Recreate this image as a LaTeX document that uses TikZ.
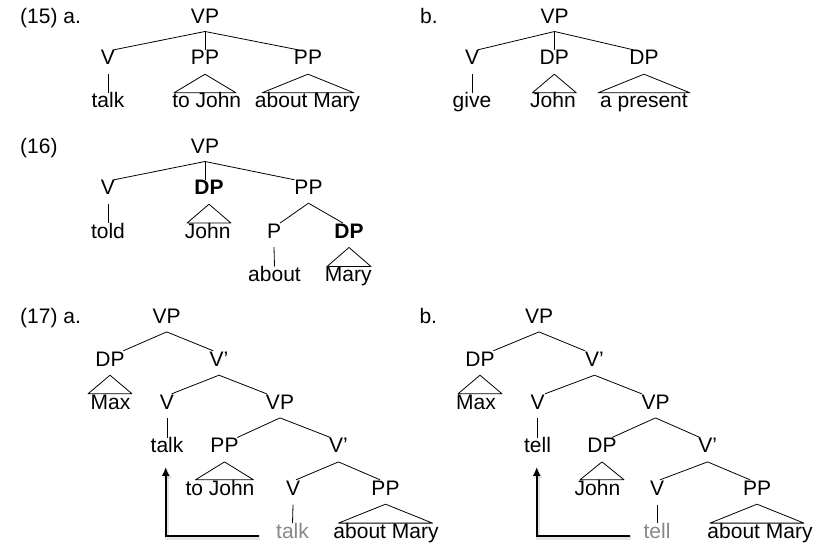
\documentclass[tikz,border=0pt]{standalone}
\usepackage{fontspec}
\setmainfont{Liberation Sans}
\usetikzlibrary{calc,arrows.meta}
\definecolor{gtext}{RGB}{135,135,135}
\newcommand\labfont{\fontsize{21}{25}\selectfont}
\newcommand\mytri[3]{\draw[edge] ([yshift=-9pt]#1.south) -- ($(#1.south |- #2.north)+(-#3pt,0)$) -- ($(#1.south |- #2.north)+(#3pt,0)$) -- cycle;}
\tikzset{
  lab/.style={font=\labfont, inner sep=0pt, text height=15pt, text depth=0pt, anchor=base},
  numlab/.style={lab, anchor=base west},
  boldlab/.style={lab, font=\labfont\bfseries},
  edge/.style={line width=0.8pt, line join=round},
  movearrow/.style={line width=2pt, -{Latex[length=9pt,width=8pt]}},
  moveshadow/.style={line width=4.5pt, draw=black, opacity=0.10, -{Latex[length=10pt,width=10pt]}}
}
\begin{document}
\begin{tikzpicture}[x=1pt,y=-1pt]
\useasboundingbox (0,0) rectangle (829,545);

% ---------- (15) a ----------
\node[numlab] (l15) at (20,23.3) {(15) a.};
\node[lab] (avp) at (205,23.3) {VP};
\node[lab] (av) at (108,65) {V};
\node[lab] (app1) at (205,65) {PP};
\node[lab] (app2) at (308,65) {PP};
\node[lab] (atalk) at (108,108) {talk};
\node[lab] (atj) at (206.7,108) {to John};
\node[lab] (aam) at (307.5,108) {about Mary};
\draw[edge] ([yshift=-8pt]avp.south) -- ([xshift=6pt]av.north);
\draw[edge] ([yshift=-8pt]avp.south) -- (app1.north);
\draw[edge] ([yshift=-8pt]avp.south) -- ([xshift=-10pt]app2.north);
\draw[edge] ([yshift=-9pt]av.south) -- (atalk.north);
\mytri{app1}{atj}{31}
\mytri{app2}{aam}{46}

% ---------- (15) b ----------
\node[numlab] (l15b) at (420,23.3) {b.};
\node[lab] (bvp) at (554.5,23.3) {VP};
\node[lab] (bv) at (472,65) {V};
\node[lab] (bdp1) at (554.3,65) {DP};
\node[lab] (bdp2) at (644,65) {DP};
\node[lab] (bgive) at (472,108) {give};
\node[lab] (bjohn) at (553,108) {John};
\node[lab] (bap) at (644,108) {a present};
\draw[edge] ([yshift=-8pt]bvp.south) -- ([xshift=6pt]bv.north);
\draw[edge] ([yshift=-8pt]bvp.south) -- (bvp.south |- bdp1.north);
\draw[edge] ([yshift=-8pt]bvp.south) -- ([xshift=-10.7pt]bdp2.north);
\draw[edge] ([yshift=-9pt]bv.south) -- (bgive.north);
\mytri{bdp1}{bjohn}{22}
\mytri{bdp2}{bap}{46}

% ---------- (16) ----------
\node[numlab] (l16) at (20,153.3) {(16)};
\node[lab] (cvp) at (205,153.3) {VP};
\node[lab] (cv) at (108,195) {V};
\node[boldlab] (cdp) at (209,195) {DP};
\node[lab] (cpp) at (308.5,195) {PP};
\node[lab] (ctold) at (108,238.3) {told};
\node[lab] (cjohn) at (207.7,238.3) {John};
\node[lab] (cp) at (274,238.3) {P};
\node[boldlab] (cdp2) at (349,238.3) {DP};
\node[lab] (cabout) at (274.5,281.7) {about};
\node[lab] (cmary) at (348.3,281.7) {Mary};
\draw[edge] ([yshift=-8pt]cvp.south) -- ([xshift=6pt]cv.north);
\draw[edge] ([yshift=-8pt]cvp.south) -- (cvp.south |- cdp.north);
\draw[edge] ([yshift=-8pt]cvp.south) -- ([xshift=-14pt]cpp.north);
\draw[edge] ([yshift=-9pt]cv.south) -- (ctold.north);
\mytri{cdp}{cjohn}{22}
\draw[edge] ([yshift=-8pt]cpp.south) -- ([xshift=6pt]cp.north);
\draw[edge] ([yshift=-8pt]cpp.south) -- ([xshift=-6pt]cdp2.north);
\draw[edge] ([yshift=-8.5pt]cp.south) -- (cabout.north);
\mytri{cdp2}{cmary}{22}

% ---------- (17) a ----------
\node[numlab] (l17) at (20,323.3) {(17) a.};
\node[lab] (dvp) at (166.7,323.3) {VP};
\node[lab] (ddp) at (110,366) {DP};
\node[lab] (dvb) at (219,366) {V’};
\node[lab] (dmax) at (110.5,409) {Max};
\node[lab] (dv) at (167,409) {V};
\node[lab] (dvp2) at (280,409) {VP};
\node[lab] (dtalk) at (167,452.7) {talk};
\node[lab] (dpp) at (224.5,452.7) {PP};
\node[lab] (dvb2) at (338.5,452.7) {V’};
\node[lab] (dtj) at (220,495) {to John};
\node[lab] (dv2) at (293,495) {V};
\node[lab] (dpp2) at (385.5,495) {PP};
\node[lab,text=gtext] (dtalk2) at (292.5,538.3) {talk};
\node[lab] (dam) at (386,538.3) {about Mary};
\draw[edge] ([yshift=-8.4pt]dvp.south) -- ([xshift=13.3pt]ddp.north);
\draw[edge] ([yshift=-8.4pt]dvp.south) -- ([xshift=-5.7pt]dvb.north);
\mytri{ddp}{dmax}{22}
\draw[edge] ([yshift=-9pt]dvb.south) -- ([xshift=4.7pt]dv.north);
\draw[edge] ([yshift=-9pt]dvb.south) -- ([xshift=-13.3pt]dvp2.north);
\draw[edge] ([yshift=-9pt]dv.south) -- (dtalk.north);
\draw[edge] ([yshift=-8.7pt]dvp2.south) -- ([xshift=12.8pt]dpp.north);
\draw[edge] ([yshift=-8.7pt]dvp2.south) -- ([xshift=-8pt]dvb2.north);
\mytri{dpp}{dtj}{29}
\draw[edge] ([yshift=-9pt]dvb2.south) -- ([xshift=3pt]dv2.north);
\draw[edge] ([yshift=-9pt]dvb2.south) -- ([xshift=-5.5pt]dpp2.north);
\draw[edge] ([yshift=-9.5pt]dv2.south) -- (dtalk2.north);
\mytri{dpp2}{dam}{47}

% ---------- (17) b ----------
\node[numlab] (l17b) at (419.3,323.3) {b.};
\node[lab] (evp) at (539,323.3) {VP};
\node[lab] (edp) at (480,366) {DP};
\node[lab] (evb) at (594.5,366) {V’};
\node[lab] (emax) at (476,409) {Max};
\node[lab] (ev) at (537.5,409) {V};
\node[lab] (evp2) at (655.5,409) {VP};
\node[lab] (etell) at (537.5,452.7) {tell};
\node[lab] (edp2) at (602,452.7) {DP};
\node[lab] (evb2) at (707.6,452.7) {V’};
\node[lab] (ejohn) at (597.5,495) {John};
\node[lab] (ev2) at (657,495) {V};
\node[lab] (epp) at (757,495) {PP};
\node[lab,text=gtext] (etell2) at (657,538.3) {tell};
\node[lab] (eam) at (760,538.3) {about Mary};
\draw[edge] ([yshift=-8.4pt]evp.south) -- ([xshift=13.3pt]edp.north);
\draw[edge] ([yshift=-8.4pt]evp.south) -- ([xshift=-9.5pt]evb.north);
\mytri{edp}{emax}{22}
\draw[edge] ([yshift=-9pt]evb.south) -- ([xshift=7.5pt]ev.north);
\draw[edge] ([yshift=-9pt]evb.south) -- ([xshift=-13.8pt]evp2.north);
\draw[edge] ([yshift=-9pt]ev.south) -- (etell.north);
\draw[edge] ([yshift=-8.7pt]evp2.south) -- ([xshift=10pt]edp2.north);
\draw[edge] ([yshift=-8.7pt]evp2.south) -- ([xshift=-7.6pt]evb2.north);
\mytri{edp2}{ejohn}{22}
\draw[edge] ([yshift=-9pt]evb2.south) -- ([xshift=3pt]ev2.north);
\draw[edge] ([yshift=-9pt]evb2.south) -- ([xshift=-7pt]epp.north);
\draw[edge] ([yshift=-9.5pt]ev2.south) -- (etell2.north);
\mytri{epp}{eam}{47}

% ---------- movement arrows ----------
\draw[moveshadow, transform canvas={shift={(1.5pt,-1.5pt)}}]
  ([xshift=-17pt,yshift=2.3pt]dtalk2.south west) -| ([xshift=-1.3pt,yshift=-14pt]dtalk.south);
\draw[movearrow]
  ([xshift=-17pt,yshift=2.3pt]dtalk2.south west) -| ([xshift=-1.3pt,yshift=-14pt]dtalk.south);
\draw[moveshadow, transform canvas={shift={(1.5pt,-1.5pt)}}]
  ([xshift=-13.6pt,yshift=2.3pt]etell2.south west) -| ([xshift=-0.8pt,yshift=-14pt]etell.south);
\draw[movearrow]
  ([xshift=-13.6pt,yshift=2.3pt]etell2.south west) -| ([xshift=-0.8pt,yshift=-14pt]etell.south);
\end{tikzpicture}
\end{document}
